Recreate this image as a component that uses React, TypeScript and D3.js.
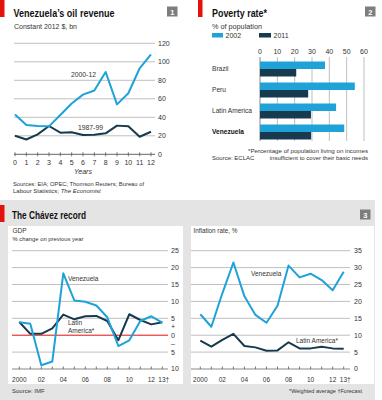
import React from "react";
import * as d3 from "d3";

// ---------- Data ----------
const oilYears = [0, 1, 2, 3, 4, 5, 6, 7, 8, 9, 10, 11, 12];
const oil2000s = [43, 31.6, 30.6, 30.2, 42.5, 55, 64.5, 69, 89, 54, 66, 93, 108];
const oil1987s = [20, 16, 21.6, 30.6, 23.4, 23.8, 20.9, 21.2, 22.7, 31, 30.3, 19, 24.4];
const oilTicks = [0, 20, 40, 60, 80, 100, 120];

const povCountries = ["Brazil", "Peru", "Latin America", "Venezuela"];
const pov2002 = [37.5, 54.7, 43.9, 48.6];
const pov2011 = [20.9, 27.8, 29.4, 29.5];
const povTicks = [0, 10, 20, 30, 40, 50, 60];

const chYears = [2000, 2001, 2002, 2003, 2004, 2005, 2006, 2007, 2008, 2009, 2010, 2011, 2012, 2013];
const gdpVen = [3.8, 3.4, -8.9, -7.8, 18.3, 10.3, 9.9, 8.8, 5.3, -3.2, -1.5, 4.2, 5.6, 3.7];
const gdpLat = [3.9, 0.4, 0.4, 2.0, 6.1, 4.7, 5.6, 5.7, 4.2, -1.5, 6.2, 4.5, 3.2, 3.8];
const gdpTicks = [-10, -5, 0, 5, 10, 15, 20, 25];
const gdpTickLabels = ["10", "5", "0", "5", "10", "15", "20", "25"];
const infVen = [16.2, 12.5, 22.4, 31.5, 21.5, 16, 13.7, 18.7, 30.6, 27.1, 28.2, 26.3, 23.3, 28.8];
const infLat = [8.4, 6.6, 8.6, 10.4, 6.8, 6.4, 5.4, 5.5, 7.9, 6.1, 6.1, 6.6, 6.1, 6.0];
const infTicks = [0, 5, 10, 15, 20, 25, 30, 35];
const chLabelYears = [2000, 2002, 2004, 2006, 2008, 2010, 2012, 2013];
const chLabels = ["2000", "02", "04", "06", "08", "10", "12", "13†"];

// ---------- Style ----------
const FONT = "'Liberation Sans', Arial, sans-serif";
const LIGHT = "#1ea2d8";
const DARK = "#173a4e";
const RED = "#e3120b";
const GRID = "#a3a3a3";
const TXT = "#333";

export default function App() {
  // Panel 1
  const x1 = d3.scaleLinear().domain([0, 12]).range([15, 151]);
  const y1 = d3.scaleLinear().domain([0, 120]).range([154.3, 43.3]);
  const line1 = d3.line<number>().x((_, i) => x1(oilYears[i])).y((d) => y1(d));

  // Panel 2
  const x2 = d3.scaleLinear().domain([0, 60]).range([260, 364]);
  const y2 = d3.scaleBand<string>().domain(povCountries).range([58.5, 142.5]).paddingInner(0.286).paddingOuter(0.143);
  const bh = y2.bandwidth() / 2;

  // Panel 3
  const xg = d3.scaleLinear().domain([2000, 2013]).range([19.3, 162.3]);
  const yg = d3.scaleLinear().domain([-10, 25]).range([369, 250.7]);
  const lineG = d3.line<number>().x((_, i) => xg(chYears[i])).y((d) => yg(d));
  const xi = d3.scaleLinear().domain([2000, 2013]).range([200.3, 343.7]);
  const yi = d3.scaleLinear().domain([0, 35]).range([369, 250.7]);
  const lineI = d3.line<number>().x((_, i) => xi(chYears[i])).y((d) => yi(d));

  const sq = { lengthAdjust: "spacingAndGlyphs" as const };

  return (
    <svg width={382} height={400} style={{ position: "absolute", left: 0, top: 0, background: "#fff" }} fontFamily={FONT}>
      {/* ===== Panel 1 ===== */}
      <rect x={0} y={0} width={4.5} height={17} fill={RED} />
      <text x={13.5} y={17} fontSize={10.5} fontWeight="bold" fill="#111" textLength={101} {...sq}>Venezuela’s oil revenue</text>
      <rect x={167} y={6.5} width={10.5} height={10} fill="#7d7d7d" />
      <text x={172.3} y={14.6} fontSize={7.5} fontWeight="bold" fill="#fff" textAnchor="middle">1</text>
      <text x={14} y={28.5} fontSize={7} fill={TXT} textLength={63} {...sq}>Constant 2012 $, bn</text>
      {oilTicks.map((t) => (
        <g key={t}>
          <line x1={14} x2={155} y1={y1(t)} y2={y1(t)} stroke={t === 0 ? "#555" : GRID} strokeWidth={t === 0 ? 0.9 : 0.7} />
          <text x={158} y={y1(t)} dy="0.35em" fontSize={7} fill={TXT}>{t}</text>
        </g>
      ))}
      {oilYears.map((yr) => (
        <g key={yr}>
          <line x1={x1(yr)} x2={x1(yr)} y1={y1(0) - 2} y2={y1(0) + 2} stroke="#555" strokeWidth={0.8} />
          <text x={x1(yr)} y={163} dy="0.35em" fontSize={7} textAnchor="middle" fill={TXT}>{yr}</text>
        </g>
      ))}
      <text x={83} y={172} dy="0.35em" fontSize={7} fontStyle="italic" textAnchor="middle" fill={TXT}>Years</text>
      <path d={line1(oil1987s) || ""} fill="none" stroke={DARK} strokeWidth={2} strokeLinejoin="round" />
      <path d={line1(oil2000s) || ""} fill="none" stroke={LIGHT} strokeWidth={2} strokeLinejoin="round" />
      <text x={71} y={74.5} dy="0.35em" fontSize={6.8} fill={TXT}>2000-12</text>
      <text x={78} y={127.5} dy="0.35em" fontSize={6.8} fill={TXT}>1987-99</text>
      <text x={13} y={186} fontSize={6} fill={TXT} textLength={131} {...sq}>Sources: EIA; OPEC; Thomson Reuters; Bureau of</text>
      <text x={13} y={193} fontSize={6} fill={TXT}>Labour Statistics; <tspan fontStyle="italic">The Economist</tspan></text>

      {/* ===== Panel 2 ===== */}
      <rect x={198} y={0} width={4.5} height={17} fill={RED} />
      <text x={212} y={17} fontSize={10.5} fontWeight="bold" fill="#111" textLength={55} {...sq}>Poverty rate*</text>
      <rect x={365} y={6.5} width={10.5} height={10} fill="#7d7d7d" />
      <text x={370.3} y={14.6} fontSize={7.5} fontWeight="bold" fill="#fff" textAnchor="middle">2</text>
      <text x={212} y={28.5} fontSize={7} fill={TXT} textLength={50} {...sq}>% of population</text>
      <rect x={212} y={33} width={11} height={4.5} fill={LIGHT} />
      <text x={225.5} y={35.3} dy="0.35em" fontSize={7} fill={TXT}>2002</text>
      <rect x={259} y={33} width={12} height={4.5} fill={DARK} />
      <text x={273.5} y={35.3} dy="0.35em" fontSize={7} fill={TXT}>2011</text>
      {povTicks.map((t) => (
        <g key={t}>
          <line x1={x2(t)} x2={x2(t)} y1={57} y2={141} stroke={t === 0 ? "#555" : GRID} strokeWidth={0.7} />
          <text x={x2(t)} y={51.5} dy="0.35em" fontSize={7} textAnchor="middle" fill={TXT}>{t}</text>
        </g>
      ))}
      {povCountries.map((c, i) => (
        <g key={c}>
          <rect x={x2(0)} y={y2(c)!} width={x2(pov2002[i]) - x2(0)} height={bh} fill={LIGHT} />
          <rect x={x2(0)} y={y2(c)! + bh} width={x2(pov2011[i]) - x2(0)} height={bh} fill={DARK} />
          <text x={212} y={y2(c)! + bh} dy="0.35em" fontSize={6.6} fill={c === "Venezuela" ? "#111" : TXT} fontWeight={c === "Venezuela" ? "bold" : "normal"}>{c}</text>
        </g>
      ))}
      <text x={368} y={151} dy="0.35em" fontSize={6} textAnchor="end" fill={TXT} textLength={120} {...sq}>*Percentage of population living on incomes</text>
      <text x={368} y={158} dy="0.35em" fontSize={6} textAnchor="end" fill={TXT}>insufficient to cover their basic needs</text>
      <text x={212} y={158} dy="0.35em" fontSize={6} fill={TXT}>Source: ECLAC</text>

      {/* ===== Panel 3 ===== */}
      <rect x={0} y={200} width={375} height={200} fill="#e4e4e4" />
      <rect x={0} y={205} width={4.5} height={17} fill={RED} />
      <text x={12} y={219} fontSize={10.5} fontWeight="bold" fill="#111" textLength={74} {...sq}>The Chávez record</text>
      <rect x={360} y={209.5} width={10.5} height={10} fill="#7d7d7d" />
      <text x={365.3} y={217.6} fontSize={7.5} fontWeight="bold" fill="#fff" textAnchor="middle">3</text>

      {/* GDP */}
      <rect x={8} y={226} width={175} height={158} fill="#fff" />
      <text x={12.5} y={233} fontSize={6.5} fill={TXT}>GDP</text>
      <text x={12.5} y={241} fontSize={5.7} fill={TXT} textLength={71} {...sq}>% change on previous year</text>
      {gdpTicks.map((t, i) => (
        <g key={t}>
          <line x1={12} x2={168} y1={yg(t)} y2={yg(t)} stroke={t === 0 ? RED : t === -10 ? "#555" : GRID} strokeWidth={t === 0 ? 1 : 0.7} />
          <text x={171} y={yg(t)} dy="0.35em" fontSize={7} fill={TXT}>{gdpTickLabels[i]}</text>
        </g>
      ))}
      <text x={171} y={yg(2.5)} dy="0.35em" fontSize={7} fill={TXT}>+</text>
      <text x={171} y={yg(-2.5)} dy="0.35em" fontSize={7} fill={TXT}>–</text>
      {chYears.map((yr) => (
        <line key={yr} x1={xg(yr)} x2={xg(yr)} y1={yg(-10) - 2.5} y2={yg(-10)} stroke="#555" strokeWidth={0.8} />
      ))}
      {chLabelYears.map((yr, i) => (
        <text key={yr} x={xg(yr) + (yr === 2013 ? 1.5 : 0)} y={379.5} dy="0.35em" fontSize={6.5} textAnchor="middle" fill={TXT}>{chLabels[i]}</text>
      ))}
      <path d={lineG(gdpLat) || ""} fill="none" stroke={DARK} strokeWidth={2} strokeLinejoin="round" />
      <path d={lineG(gdpVen) || ""} fill="none" stroke={LIGHT} strokeWidth={2} strokeLinejoin="round" />
      <text x={68} y={278.5} dy="0.35em" fontSize={6.5} fill={TXT}>Venezuela</text>
      <text x={68} y={323} dy="0.35em" fontSize={6.5} fill={TXT}>Latin</text>
      <text x={68} y={331} dy="0.35em" fontSize={6.5} fill={TXT}>America*</text>
      <text x={12} y={391} dy="0.35em" fontSize={6} fill={TXT}>Source: IMF</text>

      {/* Inflation */}
      <rect x={191} y={226} width={183} height={158} fill="#fff" />
      <text x={193.5} y={233} fontSize={6.3} fill={TXT}>Inflation rate, %</text>
      {infTicks.map((t) => (
        <g key={t}>
          <line x1={191} x2={350} y1={yi(t)} y2={yi(t)} stroke={t === 0 ? "#555" : GRID} strokeWidth={0.7} />
          <text x={354} y={yi(t)} dy="0.35em" fontSize={7} fill={TXT}>{t}</text>
        </g>
      ))}
      {chYears.map((yr) => (
        <line key={yr} x1={xi(yr)} x2={xi(yr)} y1={yi(0) - 2.5} y2={yi(0)} stroke="#555" strokeWidth={0.8} />
      ))}
      {chLabelYears.map((yr, i) => (
        <text key={yr} x={xi(yr) + (yr === 2013 ? 1.5 : 0)} y={379.5} dy="0.35em" fontSize={6.5} textAnchor="middle" fill={TXT}>{chLabels[i]}</text>
      ))}
      <path d={lineI(infLat) || ""} fill="none" stroke={DARK} strokeWidth={2} strokeLinejoin="round" />
      <path d={lineI(infVen) || ""} fill="none" stroke={LIGHT} strokeWidth={2} strokeLinejoin="round" />
      <text x={251} y={273.5} dy="0.35em" fontSize={6.5} fill={TXT}>Venezuela</text>
      <text x={296} y={341} dy="0.35em" fontSize={6.5} fill={TXT}>Latin America*</text>
      <text x={362} y={391} dy="0.35em" fontSize={6} textAnchor="end" fill={TXT} textLength={73} {...sq}>*Weighted average   †Forecast</text>
    </svg>
  );
}
